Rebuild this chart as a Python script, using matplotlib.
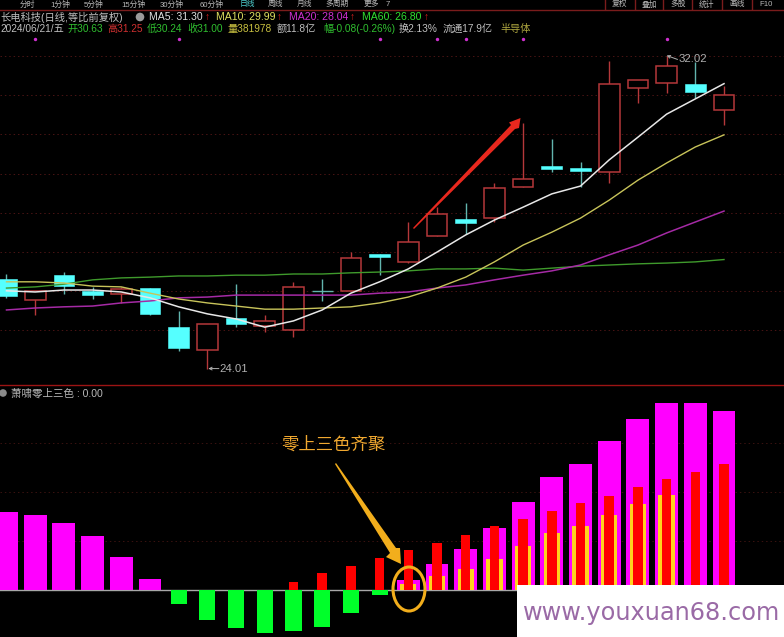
import matplotlib
matplotlib.use("Agg")
import matplotlib.pyplot as plt
from matplotlib.patches import Rectangle, Polygon, Ellipse, Circle

plt.rcParams['font.family'] = ['Liberation Sans', 'Noto Sans CJK SC', 'DejaVu Sans']

# ---- price data
opens  = [26.30,25.76,26.40,26.00,25.92,26.07,25.07,24.49,25.30,25.10,25.00,26.00,26.00,26.94,26.74,27.40,27.84,27.86,28.66,29.19,29.14,29.04,31.19,31.32,31.29,30.63]
closes = [25.87,26.00,26.12,25.89,26.05,25.41,24.54,25.15,25.15,25.23,26.10,26.00,26.84,26.86,27.25,27.96,27.73,28.63,28.86,29.12,29.06,31.29,31.39,31.75,31.09,31.00]
highs  = [26.43,26.00,26.48,26.10,26.10,26.07,25.48,25.15,26.17,25.38,26.23,26.30,26.99,26.94,27.76,28.14,28.25,28.76,30.29,29.88,29.30,31.88,31.39,32.02,31.85,31.25]
lows   = [25.82,25.38,25.92,25.79,25.69,25.38,24.46,24.01,25.07,24.95,24.82,25.74,26.00,26.40,26.71,27.40,27.45,27.76,28.66,29.04,28.66,28.76,30.80,31.06,30.93,30.24]
ma5  = [26.00,25.97,26.02,26.02,25.97,25.82,25.59,25.41,25.28,25.07,25.23,25.51,25.94,26.23,26.56,26.99,27.43,27.81,28.14,28.48,28.68,29.35,29.93,30.52,30.91,31.30]
ma10 = [26.23,26.23,26.20,26.12,26.10,25.94,25.79,25.69,25.61,25.53,25.53,25.56,25.59,25.69,25.84,26.07,26.35,26.74,27.17,27.50,27.86,28.32,28.83,29.27,29.68,29.99]
ma20 = [25.51,25.56,25.59,25.61,25.69,25.74,25.82,25.84,25.89,25.89,25.89,25.89,25.89,25.94,25.97,26.07,26.15,26.28,26.40,26.51,26.66,26.92,27.17,27.48,27.76,28.04]
ma60 = [26.07,26.10,26.17,26.28,26.33,26.35,26.38,26.38,26.40,26.40,26.43,26.43,26.46,26.48,26.51,26.56,26.56,26.58,26.53,26.58,26.63,26.66,26.69,26.71,26.74,26.80]
signal_days = [1,6,13,15,16,18,23]
signal_level = 32.44
price_grid = [25,26,27,28,29,30,31,32]

# ---- indicator data
magenta_days = [0,1,2,3,4,5,14,15,16,17,18,19,20,21,22,23,24,25]
magenta_vals = [1.59,1.53,1.37,1.10,0.67,0.22,0.20,0.53,0.84,1.27,1.80,2.31,2.57,3.04,3.49,3.82,3.82,3.65]
green_days = [6,7,8,9,10,11,12,13]
green_vals = [-0.29,-0.61,-0.78,-0.88,-0.84,-0.76,-0.47,-0.10]
red_days = [10,11,12,13,14,15,16,17,18,19,20,21,22,23,24,25]
red_vals = [0.16,0.35,0.49,0.65,0.82,0.96,1.12,1.31,1.45,1.61,1.78,1.92,2.10,2.27,2.41,2.57]
yellow_days = [14,15,16,17,18,19,20,21,22,23]
yellow_vals = [0.12,0.29,0.43,0.63,0.90,1.16,1.31,1.53,1.76,1.94]
ind_grid = [1,2,3]

W, H = 784, 637
fig = plt.figure(figsize=(W/100, H/100), dpi=100, facecolor='black')
def axes_px(top, bottom):
    return fig.add_axes([0, 1-bottom/H, 1, (bottom-top)/H], facecolor='black')

XL = (-0.226, 27.09)
UP = '#b5383a'; CY = '#55ffff'; CYW = '#62b5ae'
GRID = '#4a1414'

# ---- price panel
ax = axes_px(9, 385)
ax.set_xlim(*XL); ax.set_ylim(23.59, 33.21); ax.axis('off')
for g in price_grid:
    ax.axhline(g, color=GRID, lw=0.7, ls=(0,(1.5,3)), zorder=1)
cw = 0.72
for i,(o,c,h,l) in enumerate(zip(opens,closes,highs,lows)):
    up = c > o
    if up:
        ax.vlines(i, l, h, color=UP, lw=1.0, zorder=2)
        ax.add_patch(Rectangle((i-cw/2, o), cw, c-o, fc='black', ec=UP, lw=1.1, zorder=3))
    else:
        ax.vlines(i, l, h, color=CYW, lw=1.0, zorder=2)
        if o == c:
            ax.hlines(o, i-cw/2, i+cw/2, color=CYW, lw=1.0, zorder=3)
        else:
            ax.add_patch(Rectangle((i-cw/2, c), cw, o-c, fc=CY, ec=CY, lw=0.4, zorder=3))
days = list(range(len(ma5)))
ax.plot(days, ma60, color='#3f9a2c', lw=1.0, zorder=4)
ax.plot(days, ma20, color='#a52aa5', lw=1.1, zorder=4)
ax.plot(days, ma10, color='#c8c45a', lw=1.0, zorder=5)
ax.plot(days, ma5,  color='#e8e8e8', lw=1.1, zorder=6)
ax.scatter(signal_days, [signal_level]*len(signal_days), s=6, color='#d030d0', zorder=4, linewidths=0)
ax.text(7.42, 24.01, '24.01', color='#b0b0b0', fontsize=8.2, va='center', ha='left', zorder=7)
ax.annotate('', xy=(7.03, 24.01), xytext=(7.4, 24.01),
            arrowprops=dict(arrowstyle='->', color='#b0b0b0', lw=0.7, mutation_scale=5, shrinkA=0, shrinkB=0), zorder=7)
ax.text(23.4, 31.92, '32.02', color='#b0b0b0', fontsize=8.2, va='center', ha='left', zorder=7)
ax.annotate('', xy=(23.0, 32.02), xytext=(23.38, 31.92),
            arrowprops=dict(arrowstyle='->', color='#b0b0b0', lw=0.7, mutation_scale=5, shrinkA=0, shrinkB=0), zorder=7)

# ---- indicator panel
bx = axes_px(385, 637)
bx.set_xlim(*XL); bx.set_ylim(-0.959, 4.184); bx.axis('off')
for g in ind_grid:
    bx.axhline(g, color='#3a1210', lw=0.7, ls=(0,(1.5,3)), zorder=1)
bx.axhline(0, color='#a8a8a8', lw=1.0, zorder=1)
bx.bar(magenta_days, magenta_vals, width=0.80, color='#ff00ff', zorder=2)
bx.bar(green_days, green_vals, width=0.56, color='#00ff2a', zorder=2)
bx.bar(red_days, red_vals, width=0.33, color='#ff0000', zorder=3)
bx.bar([d-0.225 for d in yellow_days], yellow_vals, width=0.12, color='#ffd21e', zorder=4)
bx.bar([d+0.225 for d in yellow_days], yellow_vals, width=0.12, color='#ffd21e', zorder=4)

# ---- overlay in pixel space: frame, text, callouts
ov = fig.add_axes([0,0,1,1], facecolor='none')
ov.set_xlim(0, W); ov.set_ylim(H, 0); ov.axis('off')
ov.plot([0,W],[9.5,9.5], color='#7a1c1c', lw=1)
ov.plot([0,W],[385,385], color='#9c1414', lw=1)
for x in [605,635,663,692,722,752]:
    ov.plot([x,x],[0,9], color='#7a1c1c', lw=1)

def T(x, y, s, c, fs=7.4, **k):
    ov.text(x, y, s, color=c, fontsize=fs, va='center', ha='left', **k)

TAB = '#b8b8b8'
tabs = [(20,'分时',TAB),(50,'1分钟',TAB),(84,'5分钟',TAB),(121,'15分钟',TAB),
        (160,'30分钟',TAB),(200,'60分钟',TAB),(240,'日线','#4fd0d0'),(268,'周线',TAB),
        (297,'月线',TAB),(325,'多周期',TAB),(364,'更多',TAB),(386,'7',TAB),
        (612,'复权',TAB),(642,'叠加',TAB),(670,'多股',TAB),(699,'统计',TAB),
        (729,'画线',TAB),(759,'F10',TAB)]
for x,s,c in tabs:
    T(x, 4.4, s, c, fs=5.6)

ov.add_patch(Circle((140,17), 4.3, fc='#9a9a9a', ec='none'))
T(0, 17, '长电科技(日线,等比前复权)', '#c0c0c0', fs=7.4)
for x,s,c in [(149,'MA5: 31.30','#e0e0e0'),(216,'MA10: 29.99','#e0e060'),
              (289,'MA20: 28.04','#d030d0'),(362,'MA60: 26.80','#30e030')]:
    T(x, 17, s, c, fs=7.6)
for x in [205,277,350,424]:
    T(x, 17, '↑', '#e02020', fs=7.2, fontweight='bold')
row2 = [(0,'2024/06/21/五','#c0c0c0'),(67,'开30.63','#30c030'),(107,'高31.25','#d03030'),
        (147,'低30.24','#30c030'),(187,'收31.00','#30c030'),(228,'量381978','#c8c040'),
        (277,'额11.8亿','#c0c0c0'),(323,'幅-0.08(-0.26%)','#30c030'),(399,'换2.13%','#c0c0c0'),
        (443,'流通17.9亿','#c0c0c0'),(500,'半导体','#b0a840')]
for x,s,c in row2:
    T(x, 29, s, c, fs=7.3)

ov.add_patch(Circle((3,393), 3.8, fc='#8a8a8a', ec='none'))
T(11, 393, '萧啸零上三色 : 0.00', '#b8b8b8', fs=7.6)

# red arrow
ov.add_patch(Polygon([(413,228),(511,125),(509,122.5),(520.5,118),(519,128),(515,129),(414,229)],
                     fc='#e8281e', ec='none', zorder=10))
# yellow arrow
ov.add_patch(Polygon([(336,463),(396,548),(400,548),(401,564),(386,557),(390,553),(335,464)],
                     fc='#f2ae1c', ec='none', zorder=10))
ov.add_patch(Ellipse((409,589), 32, 44, fc='none', ec='#f2ae1c', lw=2.2, zorder=10))
T(281, 445, '零上三色齐聚', '#f0a830', fs=12.5, zorder=10)

# watermark
ov.add_patch(Rectangle((517,585), 267, 52, fc='white', ec='none', zorder=11))
ov.text(523, 613, 'www.youxuan68.com', color='#9a6aa6', fontsize=17.3, family='DejaVu Sans',
        va='center', ha='left', zorder=12)

fig.savefig('out.png', dpi=100, facecolor='black')
